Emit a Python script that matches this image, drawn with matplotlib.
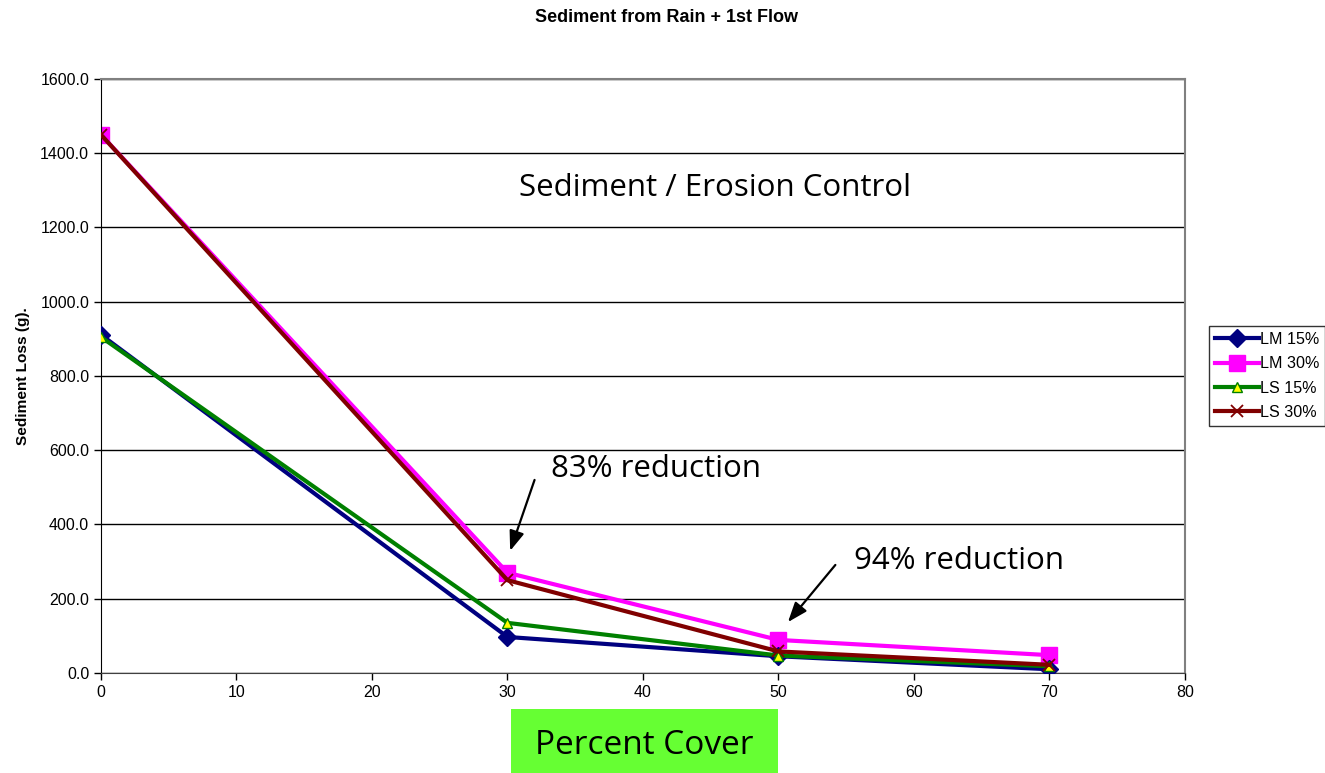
import numpy as np
import matplotlib.pyplot as plt
from matplotlib.patches import Rectangle
from matplotlib.ticker import FormatStrFormatter

plt.rcParams['font.family'] = ['Liberation Sans', 'DejaVu Sans']

# percent cover and sediment loss (g)
cover = [0, 30, 50, 70]
lm15 = [911, 97, 45, 10]
lm30 = [1450, 270, 89, 48]
ls15 = [905, 135, 47, 18]
ls30 = [1450, 250, 58, 22]

fig = plt.figure(figsize=(13.25, 7.73), dpi=100)
ax = fig.add_axes([0.0762, 0.1294, 0.8181, 0.7684])

ax.plot(cover, lm15, color="#000080", lw=3, marker="D", ms=9, mfc="#000080", mec="#000080", label="LM 15%", zorder=3)
ax.plot(cover, lm30, color="#ff00ff", lw=3, marker="s", ms=11, mfc="#ff00ff", mec="#ff00ff", label="LM 30%", zorder=2)
ax.plot(cover, ls15, color="#008000", lw=3, marker="^", ms=7, mfc="#ffff00", mec="#008000", label="LS 15%", zorder=4)
ax.plot(cover, ls30, color="#800000", lw=3, marker="x", ms=9, mew=1.3, mec="#800000", label="LS 30%", zorder=5)

ax.set_xlim(0, 80)
ax.set_ylim(0, 1600)
ax.set_xticks(np.arange(0, 81, 10))
ax.set_yticks(np.arange(0, 1601, 200))
ax.yaxis.set_major_formatter(FormatStrFormatter("%.1f"))
ax.tick_params(labelsize=11.5, length=5, width=1, direction="out")
ax.yaxis.grid(color="black", linewidth=1)
ax.set_axisbelow(True)
ax.spines["top"].set_color("#808080")
ax.spines["right"].set_color("#808080")
ax.spines["top"].set_linewidth(1.5)
ax.spines["right"].set_linewidth(1.5)
ax.spines["bottom"].set_color("#404040")

ax.set_ylabel("Sediment Loss (g).", fontsize=11.1, fontweight="bold", labelpad=7)
fig.text(0.503, 0.977, "Sediment from Rain + 1st Flow", ha="center", va="center", fontsize=13, fontweight="bold")

# annotations
big = dict(fontsize=22.5, family=["Open Sans", "DejaVu Sans"])
ax.text(45.3, 1306, "Sediment / Erosion Control", ha="center", va="center", **big)
ax.text(33.2, 549, "83% reduction", ha="left", va="center", **big)
ax.text(55.6, 302, "94% reduction", ha="left", va="center", **big)
arrow = dict(arrowstyle="-|>,head_length=1.2,head_width=0.45", color="black", lw=1.6, shrinkA=0, shrinkB=0)
ax.annotate("", xy=(30.2, 329), xytext=(32.0, 520), arrowprops=arrow)
ax.annotate("", xy=(50.7, 137), xytext=(54.2, 291), arrowprops=arrow)

# green axis title box
fig.patches.append(Rectangle((511 / 1325, 0), 267 / 1325, 64 / 773, transform=fig.transFigure,
                             facecolor="#66ff33", edgecolor="none"))
fig.text(644 / 1325, 0.036, "Percent Cover", ha="center", va="center", fontsize=24,
         family=["Open Sans", "DejaVu Sans"])

leg = ax.legend(loc="center left", bbox_to_anchor=(1.022, 0.5), fontsize=11.6, frameon=True, fancybox=False,
                edgecolor="black", handlelength=2.7, handletextpad=0.05, borderpad=0.4, labelspacing=0.58,
                borderaxespad=0)
leg.get_frame().set_linewidth(1)

fig.savefig("out.png", dpi=100)
